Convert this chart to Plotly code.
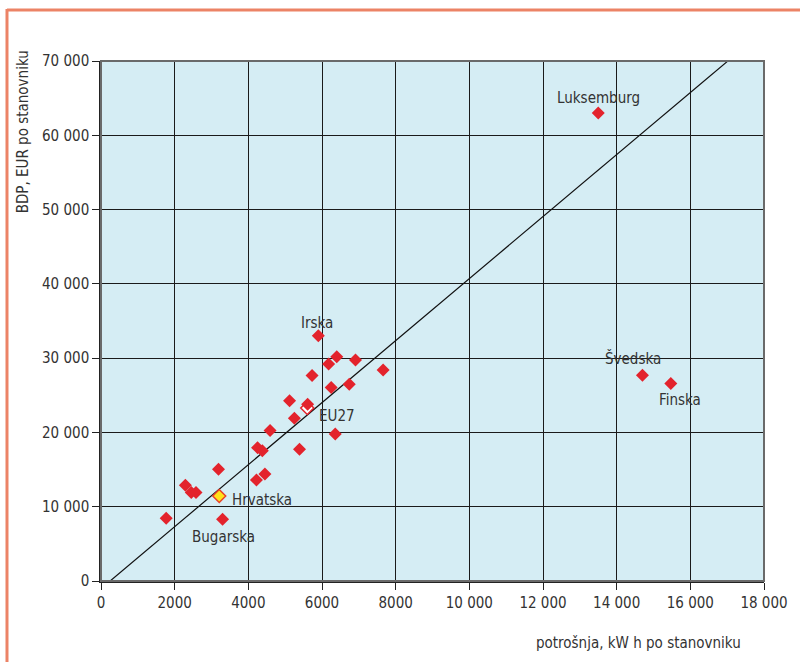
import plotly.graph_objects as go

# data: electricity consumption (kWh per capita) vs GDP (EUR per capita)
cons = [13500, 5900, 6400, 6180, 6910, 7660, 5730, 6250, 6740, 5120, 5610,
        5250, 4590, 6360, 4250, 4380, 5390, 3190, 4450, 4220, 2290, 2450,
        2580, 1770, 3300, 14700, 15470]
gdp = [63000, 33000, 30200, 29200, 29750, 28400, 27650, 26050, 26500, 24250, 23800,
       21900, 20250, 19800, 17950, 17550, 17750, 15050, 14400, 13600, 12900, 11900,
       11900, 8450, 8300, 27700, 26600]
eu27_x, eu27_y = [5600], [23300]
hr_x, hr_y = [3210], [11450]

trend_x = [90, 17110]
trend_slope, trend_zero = 4.174, 248

labels = ["Luksemburg", "Irska", "EU27", "Hrvatska", "Bugarska", "Švedska", "Finska"]
label_x = [13495, 5860, 6400, 3500, 3320, 14440, 15710]
label_y = [65000, 34700, 22200, 10900, 5950, 30000, 24350]
label_anchor = ["center", "center", "center", "left", "center", "center", "center"]

xtick_vals = [0, 2000, 4000, 6000, 8000, 10000, 12000, 14000, 16000, 18000]
xtick_text = ["0", "2000", "4000", "6000", "8000", "10 000", "12 000", "14 000", "16 000", "18 000"]
ytick_vals = [0, 10000, 20000, 30000, 40000, 50000, 60000, 70000]
ytick_text = ["0", "10 000", "20 000", "30 000", "40 000", "50 000", "60 000", "70 000"]

FONT = "DejaVu Sans Condensed, Liberation Sans Narrow, Roboto, sans-serif"
TXT = "#333333"
RED = "#e3232c"

L, R, T, B = 101, 29, 61, 81
W, H = 800, 662
pw, ph = W - L - R, H - T - B

def px(xp):
    return (xp - L) / pw

def py(yp):
    return (H - B - yp) / ph

fig = go.Figure()
trend_y = [trend_slope * (v - trend_zero) for v in trend_x]
fig.add_trace(go.Scatter(x=trend_x, y=trend_y, mode="lines",
                         line=dict(color="#111111", width=1.2), hoverinfo="skip", cliponaxis=False))
fig.add_trace(go.Scatter(x=eu27_x, y=eu27_y, mode="markers",
                         marker=dict(symbol="diamond", size=10, color="white",
                                     line=dict(color=RED, width=1.5))))
fig.add_trace(go.Scatter(x=cons, y=gdp, mode="markers",
                         marker=dict(symbol="diamond", size=10, color=RED, line=dict(width=0))))
fig.add_trace(go.Scatter(x=hr_x, y=hr_y, mode="markers",
                         marker=dict(symbol="diamond", size=10, color="#ffe21a",
                                     line=dict(color="#e8402a", width=1.5))))

for t, x, y, a in zip(labels, label_x, label_y, label_anchor):
    fig.add_annotation(x=x, y=y, text=t, showarrow=False, xanchor=a,
                       font=dict(family=FONT, size=15, color=TXT))

# axis titles
fig.add_annotation(xref="paper", yref="paper", x=px(750), y=py(643), text="potrošnja, kW h po stanovniku",
                   showarrow=False, xanchor="right", yanchor="middle",
                   font=dict(family=FONT, size=15, color=TXT))
fig.add_annotation(xref="paper", yref="paper", x=px(22), y=py(48), text="BDP, EUR po stanovniku",
                   showarrow=False, xanchor="center", yanchor="top", textangle=-90,
                   font=dict(family=FONT, size=15, color=TXT))

# plot frame
fig.add_shape(type="rect", xref="paper", yref="paper", x0=0, x1=1, y0=0, y1=1,
              line=dict(color="#6a6a6a", width=2), layer="above")
# orange outer border (top and left)
fig.add_shape(type="line", xref="paper", yref="paper", x0=px(6), x1=px(820), y0=py(10), y1=py(10),
              line=dict(color="#ec8366", width=3))
fig.add_shape(type="line", xref="paper", yref="paper", x0=px(6), x1=px(6), y0=py(9), y1=py(700),
              line=dict(color="#ec8366", width=3))

fig.update_layout(
    width=W, height=H, margin=dict(l=L, r=R, t=T, b=B),
    paper_bgcolor="white", plot_bgcolor="#d5edf4", showlegend=False,
    font=dict(family=FONT, size=15, color=TXT),
)
fig.update_xaxes(range=[0, 18000], tickvals=xtick_vals, ticktext=xtick_text,
                 showgrid=True, gridcolor="#1a1a1a", gridwidth=1, zeroline=False,
                 showline=True, linecolor="#222", linewidth=1.5,
                 ticks="outside", ticklen=7, tickcolor="#222", tickfont=dict(size=15))
fig.update_yaxes(range=[0, 70000], tickvals=ytick_vals, ticktext=ytick_text,
                 showgrid=True, gridcolor="#1a1a1a", gridwidth=1, zeroline=False,
                 showline=True, linecolor="#222", linewidth=1.5,
                 ticks="outside", ticklen=7, tickcolor="#222", tickfont=dict(size=15))

fig.write_html("out.html", config={"displayModeBar": False},
               post_script="document.body.style.margin='0';")
